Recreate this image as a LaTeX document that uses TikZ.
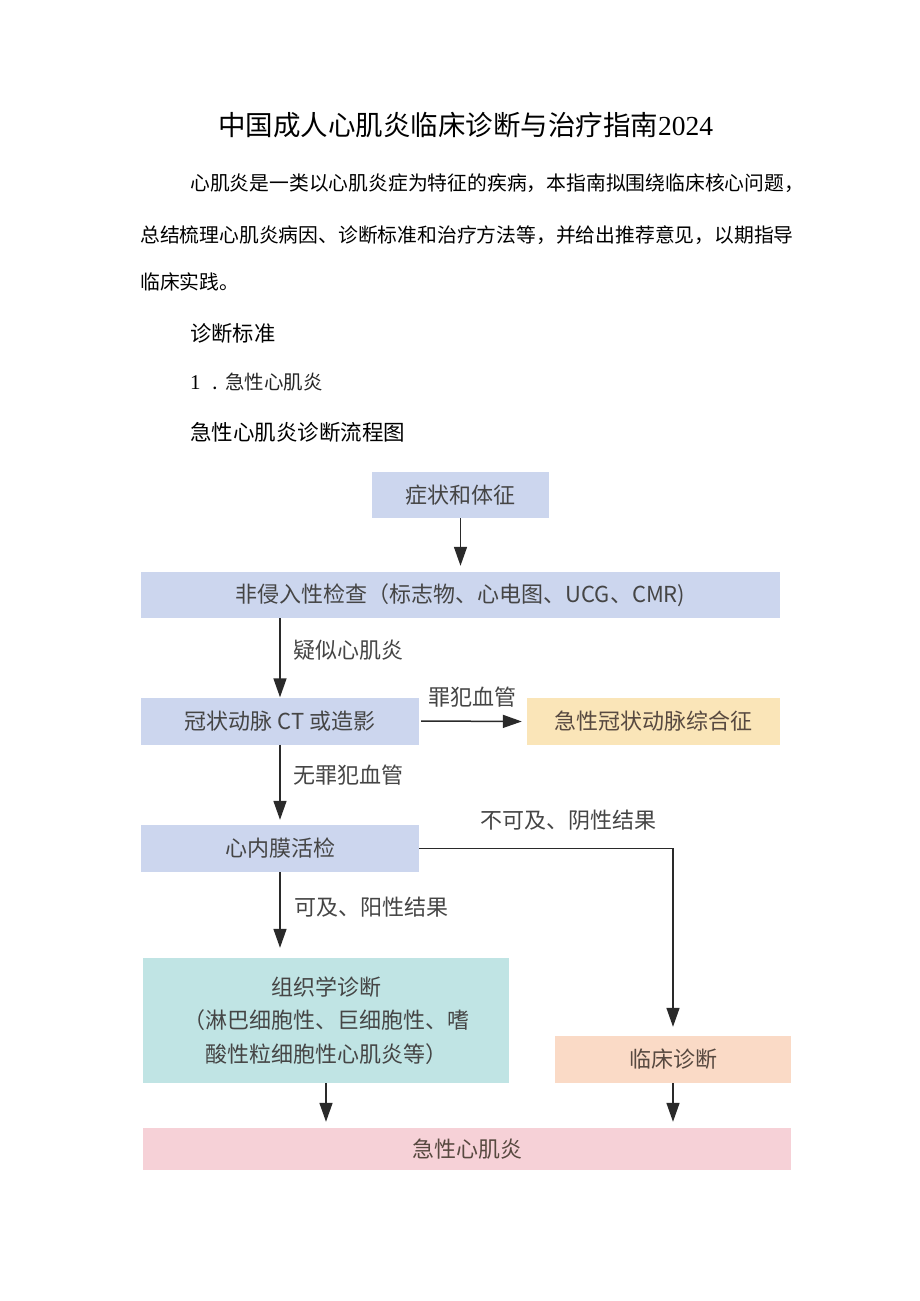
\documentclass[tikz,border=0pt]{standalone}
\usepackage{fontspec}
\setmainfont{Noto Sans CJK SC}
\newfontfamily\sern{Liberation Serif}
\usetikzlibrary{arrows.meta}
\definecolor{bluebox}{HTML}{CCD6EE}
\definecolor{yellowbox}{HTML}{FAE5B8}
\definecolor{cyanbox}{HTML}{C0E4E4}
\definecolor{peachbox}{HTML}{FADAC6}
\definecolor{pinkbox}{HTML}{F6D1D7}
\definecolor{txtgray}{HTML}{454545}
\definecolor{warmtxt}{HTML}{574940}
\definecolor{linegray}{HTML}{2A2A2A}
\begin{document}
\begin{tikzpicture}[x=1pt,y=-1pt,
  fbox/.style={draw=none, inner sep=0pt, text=txtgray, align=center,
    font=\fontsize{22}{33.5}\selectfont},
  lbl/.style={inner sep=0pt, text=txtgray, font=\fontsize{22}{26}\selectfont},
  body/.style={inner sep=0pt, anchor=west, text=black},
  arr/.style={draw=linegray, line width=1.5pt, -{Triangle[length=19pt,width=13pt]}}
]
\useasboundingbox (0,0) rectangle (920,1301);
\fill[white] (0,0) rectangle (920,1301);

% ---- text above the chart ----
\node[body, font=\fontsize{27.5}{30}\selectfont] (title) at (218,125)
  {中国成人心肌炎临床诊断与治疗指南{\sern 2024}};
\node[body, font=\fontsize{19.8}{22}\selectfont] (p1) at (190,183)
  {心肌炎是一类以心肌炎症为特征的疾病，本指南拟围绕临床核心问题，};
\node[body, font=\fontsize{19.8}{22}\selectfont] (p2) at (140,235)
  {总结梳理心肌炎病因、诊断标准和治疗方法等，并给出推荐意见，以期指导};
\node[body, font=\fontsize{19.8}{22}\selectfont] (p3) at (140,282)
  {临床实践。};
\node[body, font=\fontsize{21.3}{24}\selectfont] (h1) at (190,333) {诊断标准};
\node[inner sep=0pt, anchor=base west, font=\fontsize{21}{24}\selectfont] (num1) at (190,389.5) {\sern 1};
\node[inner sep=0pt, anchor=base west, font=\fontsize{20}{24}\selectfont] (dot1) at (212,389.5) {.};
\node[inner sep=0pt, anchor=base west, text=black!85, font=\fontsize{19.5}{22}\selectfont] (sub1) at (225,389.5) {急性心肌炎};
\node[body, font=\fontsize{21.5}{24}\selectfont] (h2) at (190,432) {急性心肌炎诊断流程图};

% ---- flowchart boxes ----
\node[fbox, fill=bluebox, minimum width=177pt, minimum height=46pt] (s1) at (460.5,495) {症状和体征};
\node[fbox, fill=bluebox, minimum width=639pt, minimum height=46pt] (s2) at (460.5,595)
  {非侵入性检查（标志物、心电图、UCG、CMR)};
\node[fbox, fill=bluebox, minimum width=278pt, minimum height=47pt] (s3) at (280,721)
  {冠状动脉 CT 或造影};
\node[fbox, fill=yellowbox, text=warmtxt, minimum width=253pt, minimum height=47pt] (acs) at (653.5,721.5)
  {急性冠状动脉综合征};
\node[fbox, fill=bluebox, minimum width=278pt, minimum height=47pt] (s4) at (280,848.5)
  {心内膜活检};
\node[fbox, fill=cyanbox, minimum width=366pt, minimum height=125pt] (hist) at (326,1020.5)
  {组织学诊断\\（淋巴细胞性、巨细胞性、嗜\\酸性粒细胞性心肌炎等）};
\node[fbox, fill=peachbox, text=warmtxt, minimum width=236pt, minimum height=47pt] (clin) at (673,1059.5)
  {临床诊断};
\node[fbox, fill=pinkbox, text=warmtxt, minimum width=648pt, minimum height=42pt] (final) at (467,1149)
  {急性心肌炎};

% ---- connectors ----
\draw[arr, shorten >=6pt] (s1.south) -- (s2.north -| s1.south);
\draw[arr] (s3.north |- s2.south) -- (s3.north);
\draw[arr, shorten <=2pt, shorten >=5pt] (s3.east) -- (acs.west);
\draw[arr, shorten >=5pt] (s3.south) -- (s4.north);
\draw[arr, shorten >=10pt] (s4.south) -- (hist.north -| s4.south);
\draw[arr, shorten >=9pt] (s4.east) -| (clin.north);
\draw[arr, shorten >=6pt] (hist.south) -- (final.north -| hist.south);
\draw[arr, shorten >=6pt] (clin.south) -- (final.north -| clin.south);

% ---- connector labels ----
\node[lbl, anchor=west] (l1) at (293,650) {疑似心肌炎};
\node[lbl] (l2) at (472,697) {罪犯血管};
\node[lbl, anchor=west] (l3) at (293,775) {无罪犯血管};
\node[lbl] (l4) at (568,820) {不可及、阴性结果};
\node[lbl, anchor=west] (l5) at (294,907) {可及、阳性结果};
\end{tikzpicture}
\end{document}
